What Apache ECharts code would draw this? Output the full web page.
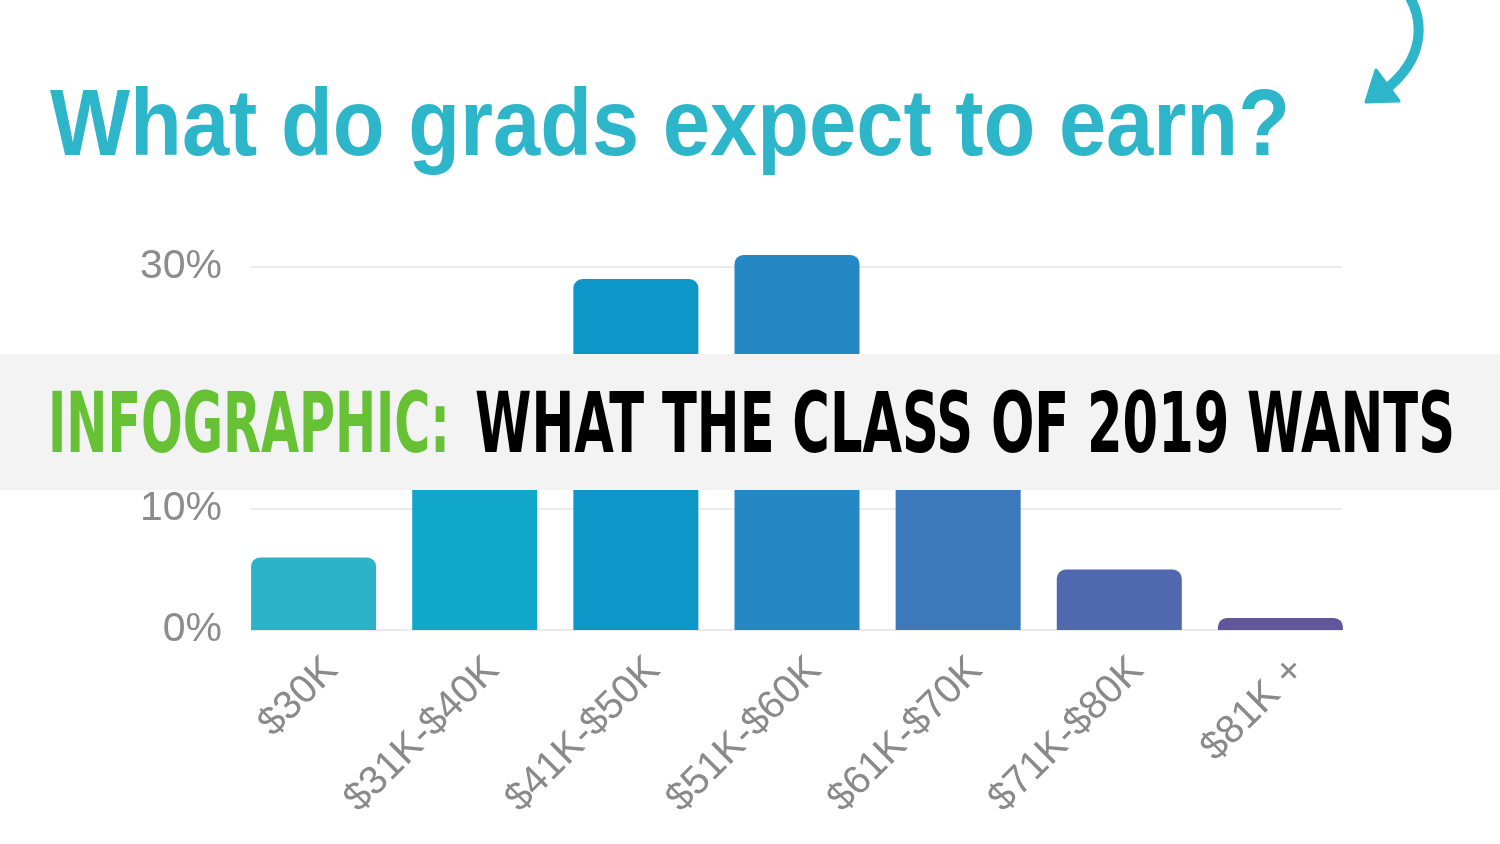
<!DOCTYPE html>
<html><head><meta charset="utf-8">
<script src="https://cdn.jsdelivr.net/npm/echarts@6/dist/echarts.min.js"></script>
<style>html,body{margin:0;padding:0;background:#fff}#c{width:1500px;height:844px}</style>
</head><body><div id="c"></div>
<script>
const categories = ['$30K', '$31K-$40K', '$41K-$50K', '$51K-$60K', '$61K-$70K', '$71K-$80K', '$81K +'];
const shares = [6, 15, 29, 31, 13, 5, 1];
const barColors = ['#2DB3C9', '#11A7CB', '#0D96C8', '#2388C3', '#3C79BA', '#5068AD', '#62569B'];
const yTickLabels = ['0%', '10%', '20%', '30%'];
const titleText = 'What do grads expect to earn?';
const bannerLead = 'INFOGRAPHIC:';
const bannerRest = 'WHAT THE CLASS OF 2019 WANTS';

const mctx = document.createElement('canvas').getContext('2d');
function fit(text, font, target) { mctx.font = font; return target / mctx.measureText(text).width; }

const titleFont = 'bold 94px "Liberation Sans"';
const bannerFont = 'bold 84px "Liberation Sans Narrow", "DejaVu Sans Condensed"';

const chart = echarts.init(document.getElementById('c'));
const labelDx = 18;
chart.setOption({
  backgroundColor: '#ffffff',
  animation: false,
  grid: [
    { left: 251, right: 158, top: 267, bottom: 214 },
    { left: 233, right: 139, top: 206.5, bottom: 214 },
    { left: 233 + labelDx, right: 139 - labelDx, top: 206.5, bottom: 214 }
  ],
  xAxis: [
    { gridIndex: 0, type: 'category', data: categories, show: false },
    { gridIndex: 1, type: 'category', data: categories, show: false },
    { gridIndex: 2, type: 'category', data: categories,
      axisLine: { show: false }, axisTick: { show: false },
      axisLabel: { rotate: 45, interval: 0, margin: 34, fontSize: 40, color: '#8a8a8a', fontFamily: 'Liberation Sans' } }
  ],
  yAxis: [
    { gridIndex: 0, type: 'value', min: 0, max: 30, interval: 10,
      axisLine: { show: false }, axisTick: { show: false },
      axisLabel: { margin: 29, fontSize: 41, color: '#8c8c8c', fontFamily: 'Liberation Sans',
        formatter: function (v) { return yTickLabels[Math.round(v / 10)]; } },
      splitLine: { lineStyle: { color: '#ebebeb', width: 2 } } },
    { gridIndex: 1, type: 'value', min: 0, max: 35, show: false, splitLine: { show: false } },
    { gridIndex: 2, type: 'value', min: 0, max: 35, show: false, splitLine: { show: false } }
  ],
  series: [{
    type: 'bar', xAxisIndex: 1, yAxisIndex: 1, data: shares, barWidth: 125,
    itemStyle: { borderRadius: [9, 9, 0, 0], color: function (p) { return barColors[p.dataIndex]; } }
  }],
  graphic: [
    { type: 'text', x: 50, y: 129, z: 50, scaleX: fit(titleText, titleFont, 1240),
      style: { text: titleText, font: titleFont, fill: '#2DB5CA', align: 'left', verticalAlign: 'middle' } },
    { type: 'bezierCurve', z: 50,
      shape: { x1: 1408, y1: -6, cpx1: 1424, cpy1: 20, cpx2: 1426, cpy2: 58, x2: 1385, y2: 90 },
      style: { stroke: '#2DB5CA', lineWidth: 10, fill: null, lineCap: 'round' } },
    { type: 'polygon', z: 50, shape: { points: [[1376, 70], [1366, 102], [1399, 101]] },
      style: { fill: '#2DB5CA', stroke: '#2DB5CA', lineWidth: 3, lineJoin: 'round' } },
    { type: 'rect', z: 100, shape: { x: 0, y: 354, width: 1500, height: 136 }, style: { fill: '#F3F3F3' } },
    { type: 'text', x: 48, y: 430, z: 101, scaleX: fit(bannerLead, bannerFont, 402),
      style: { text: bannerLead, font: bannerFont, fill: '#66C234', align: 'left', verticalAlign: 'middle' } },
    { type: 'text', x: 475, y: 430, z: 101, scaleX: fit(bannerRest, bannerFont, 980),
      style: { text: bannerRest, font: bannerFont, fill: '#000000', align: 'left', verticalAlign: 'middle' } }
  ]
});
</script>
</body></html>
